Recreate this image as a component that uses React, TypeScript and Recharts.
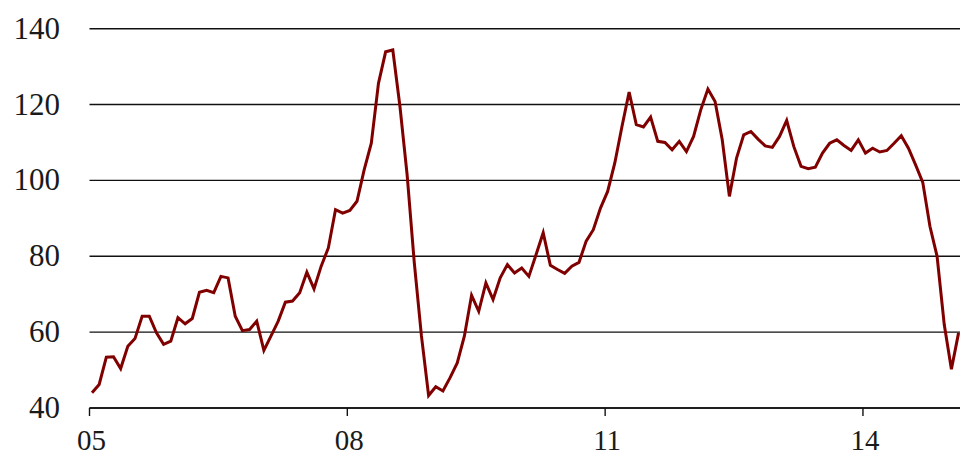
import React from "react";
import { LineChart, Line, XAxis, YAxis, CartesianGrid } from "recharts";

// monthly values, Jan 2005 .. Feb 2015
const startYear = 2005;
const prices = [
  44.0, 46.2, 53.4, 53.5, 50.4, 56.3, 58.3, 64.2, 64.2, 59.8, 56.8, 57.6,
  63.8, 62.2, 63.6, 70.5, 71.0, 70.4, 74.7, 74.3, 64.2, 60.4, 60.7, 62.9,
  55.2, 59.0, 62.9, 67.9, 68.2, 70.4, 75.8, 71.4, 77.4, 82.2, 92.3, 91.4,
  92.1, 94.5, 102.8, 109.8, 125.6, 133.9, 134.4, 119.5, 101.5, 78.3, 59.0, 43.3,
  45.6, 44.5, 48.0, 51.9, 59.0, 69.7, 65.5, 73.0, 68.6, 74.3, 77.8, 75.6,
  76.9, 74.7, 80.4, 86.2, 77.6, 76.5, 75.5, 77.4, 78.4, 84.0, 87.0, 92.7,
  97.1, 104.6, 114.2, 123.3, 114.7, 114.1, 116.7, 110.3, 110.0, 108.1, 110.3, 107.6,
  111.6, 118.6, 124.1, 120.8, 110.7, 95.8, 105.9, 112.0, 112.9, 110.9, 109.1, 108.7,
  111.6, 115.8, 108.9, 103.7, 103.1, 103.5, 107.2, 109.8, 110.7, 109.2, 107.9, 110.7,
  107.2, 108.5, 107.5, 107.9, 109.8, 111.8, 108.5, 104.1, 99.5, 87.9, 80.0, 62.0,
  50.2, 59.8,
];
const yearTicks = [2005, 2008, 2011, 2014];
const yearLabels = ["05", "08", "11", "14"];
const yTicks = [40, 60, 80, 100, 120, 140];

// x is months since start of 2005 (points sit a little past the year mark)
const data = prices.map((v, i) => ({ m: i + 0.35, price: v }));
const xTicks = yearTicks.map((y) => (y - startYear) * 12);

const font = "Liberation Serif, Times New Roman, serif";

const YTick = (props: any) => {
  const { x, y, payload } = props;
  return (
    <text x={x} y={y + 10} textAnchor="end" fontSize={31} fontFamily={font} fill="#1a1a1a">
      {payload.value}
    </text>
  );
};

const XTick = (props: any) => {
  const { x, payload } = props;
  const idx = xTicks.indexOf(payload.value);
  return (
    <text x={x + 2} y={449.5} textAnchor="middle" fontSize={29} fontFamily={font} fill="#1a1a1a">
      {yearLabels[idx]}
    </text>
  );
};

export default function App() {
  return (
    <div style={{ position: "absolute", left: 0, top: 0, width: 960, height: 452, background: "#fff" }}>
      <LineChart
        width={960}
        height={452}
        data={data}
        margin={{ top: 28.7, right: 0, bottom: 0, left: 0 }}
      >
        <CartesianGrid vertical={false} stroke="#111" strokeWidth={1.4} />
        <XAxis
          dataKey="m"
          type="number"
          domain={[0, 121.55]}
          ticks={xTicks}
          interval={0}
          axisLine={{ stroke: "#111", strokeWidth: 1.4 }}
          tickLine={{ stroke: "#111", strokeWidth: 1.4 }}
          tickSize={8}
          tick={<XTick />}
          height={44}
        />
        <YAxis
          type="number"
          domain={[40, 140]}
          ticks={yTicks}
          interval={0}
          axisLine={false}
          tickLine={false}
          tickSize={0}
          tickMargin={29.5}
          width={89.5}
          tick={<YTick />}
        />
        <Line
          type="linear"
          dataKey="price"
          stroke="#800000"
          strokeWidth={3}
          dot={false}
          isAnimationActive={false}
        />
      </LineChart>
    </div>
  );
}
